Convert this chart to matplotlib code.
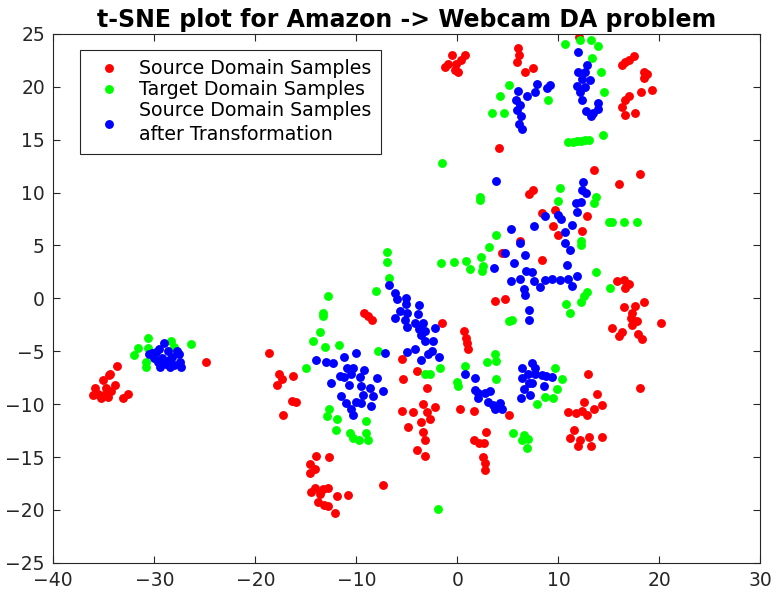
import numpy as np
import matplotlib
matplotlib.use("Agg")
import matplotlib.pyplot as plt

# source domain samples (red)
src_x = [-34.5, -35.1, -33.9, -35.9, -34.8, -35.6, -35.0, -36.1, -35.3, -34.6, -33.1, -32.6, -34.3, -33.7, -34.4, -24.9,
         -18.6, -17.7, -16.3, -17.4, -17.9, -16.4, -16.0, -17.3,
         -14.0, -12.7, -14.6, -14.1, -14.6, -14.1, -13.3, -12.8, -13.6, -14.45, -11.9, -10.8, -13.8, -13.2, -12.8, -12.15, -7.4,
         -9.2, -8.8, -8.4,
         -5.5, -4.0, -5.4, -3.0, -5.5, -4.4, -3.4, -2.2, -3.05, -3.6, -2.7, -4.9, -3.4, -3.2, -4.0, -3.2,
         -1.5, 0.7, 0.9, 1.0, 1.1, 3.7, 4.7,
         0.3, 1.6, 2.85, 1.6, 2.1, 2.6, 2.5, 2.7, 2.7, 5.1,
         12.95, 18.1, 13.8, 12.5, 14.3, 11.0, 11.7, 12.3, 12.8, 13.5, 11.5, 11.2, 12.1, 11.9, 13.0, 13.2, 14.3,
         15.8, 16.5, 16.6, 16.95, 16.5, 17.6, 18.5, 17.3, 17.15, 17.8, 17.3, 20.2, 15.3, 16.3, 16.0, 17.9, 18.3,
         8.4, 9.7, 9.5, 10.0, 12.8, 12.3, 8.4, 6.2, 4.4, 7.05, 7.5, 13.5, 16.0, 18.1, 4.1,
         -0.57, 0.75, 0.4, -1.2, -0.2, 0.1, -0.9, -0.1, 6.0, 6.1, 5.9, 6.7, 7.5, 12.0,
         16.3, 16.6, 17.0, 17.5, 18.5, 18.8, 18.5, 19.3, 18.2, 17.0, 16.6, 16.3, 16.6, 17.6]
src_y = [-7.2, -7.7, -8.2, -8.5, -8.5, -9.0, -9.1, -9.1, -9.4, -9.3, -9.4, -9.0, -8.8, -6.4, -7.1, -6.0,
         -5.2, -7.1, -7.3, -7.6, -8.2, -9.7, -9.8, -11.0,
         -14.9, -15.0, -15.7, -16.1, -16.5, -17.9, -18.0, -17.9, -18.5, -18.3, -18.7, -18.6, -19.2, -19.5, -19.6, -20.3, -17.6,
         -1.4, -1.7, -2.0,
         -5.7, -6.9, -7.6, -8.5, -10.6, -10.7, -10.0, -10.3, -10.7, -11.7, -11.4, -12.2, -12.6, -13.4, -14.3, -14.9,
         -2.3, -3.1, -3.7, -4.2, -4.8, -0.2, -0.1,
         -10.5, -10.6, -12.6, -13.4, -13.7, -13.7, -15.0, -15.6, -16.2, -11.0,
         -7.1, -8.5, -9.0, -9.75, -10.1, -10.7, -10.8, -10.6, -11.0, -10.5, -12.4, -13.2, -13.4, -14.0, -13.1, -14.0, -13.1,
         1.6, 1.75, 1.0, 1.4, -0.8, -0.7, -0.3, -1.4, -1.9, -2.1, -2.5, -2.3, -2.8, -3.2, -3.6, -3.4, -3.85,
         8.05, 8.4, 6.8, 6.0, 7.8, 6.4, 3.6, 5.4, 4.3, 9.9, 10.2, 12.1, 10.8, 11.8, 14.2,
         23.0, 23.0, 22.5, 21.9, 21.6, 21.4, 22.2, 22.2, 23.7, 23.0, 22.3, 21.4, 21.8, 24.7,
         22.1, 22.3, 22.5, 22.9, 21.4, 21.2, 20.8, 19.7, 19.5, 19.1, 18.8, 18.1, 17.3, 17.5]

# target domain samples (green)
tgt_x = [-30.6, -31.65, -32.0, -30.6, -28.3, -28.0, -26.4, -30.8, -30.8,
         -7.0, -7.0, -6.75, -8.1, -12.8, -13.3, -13.3, -13.6, -14.3, -13.1, -11.7, -15.0, -7.9,
         -12.75, -12.9, -11.9, -12.0, -10.65, -10.3, -9.7, -9.0, -8.8, -9.0, -1.95,
         -3.2, -2.7, -1.7, 0.75, 2.9, 3.7, 3.8, 0.0, 0.1, 3.8,
         5.55, 6.6, 6.4, 7.0, 6.9, 9.7, 10.4, 9.85, 9.5, 8.7, 7.9,
         -1.6, -0.3, 0.9, 1.3, 2.3, 2.4, 2.5, 3.1, 3.8, 2.25, 2.2, -1.55, 5.1, 5.4,
         5.1, 4.2, 3.4, 4.6, 10.7, 12.1, 13.2, 13.9, 13.3, 14.2, 14.5, 9.0,
         11.0, 11.4, 11.8, 12.2, 12.6, 13.0, 14.4, 10.2, 10.0, 13.7, 13.5,
         12.2, 12.2, 15.0, 15.3, 16.5, 17.8, 13.7, 15.1, 12.85, 12.5, 12.2, 10.8, 11.2]
tgt_y = [-3.7, -4.7, -5.35, -4.7, -4.0, -4.6, -4.3, -6.45, -6.0,
         4.4, 3.4, 1.9, 0.7, 0.2, -1.4, -1.7, -3.2, -4.0, -4.6, -4.4, -6.6, -5.0,
         -10.5, -11.1, -11.4, -12.4, -12.7, -13.2, -13.4, -12.7, -13.4, -11.6, -19.9,
         -7.1, -7.1, -6.6, -6.4, -6.0, -5.3, -5.9, -7.9, -8.3, -7.6,
         -12.7, -12.9, -13.4, -13.3, -14.1, -6.6, -7.6, -8.6, -9.4, -9.3, -10.0,
         3.3, 3.4, 3.5, 2.8, 3.9, 2.6, 3.1, 4.9, 6.0, 9.6, 9.3, 12.8, -2.1, -2.0,
         20.2, 19.1, 17.5, 17.5, 24.0, 24.4, 24.4, 23.9, 22.7, 21.4, 19.5, 18.8,
         14.8, 14.8, 14.9, 14.9, 15.0, 15.0, 15.4, 10.4, 9.2, 9.6, 9.0,
         5.4, 5.0, 7.2, 7.2, 7.2, 7.2, 2.5, 1.0, 0.65, 0.2, -0.3, -0.55, -1.4]

# source domain samples after transformation (blue)
trn_x = [-30.2, -29.5, -29.0, -28.6, -28.2, -27.6, -27.5, -28.0, -28.8, -29.6, -30.0, -29.2, -28.5, -27.8, -29.4, -28.4, -27.4, -30.5, -29.8,
         -6.75, -6.2, -6.0, -5.1, -5.1, -3.8, -5.7, -5.0, -6.2, -3.9, -5.2, -4.2, -3.4, -5.0, -3.8, -3.2, -2.2, -3.6, -3.2, -2.45,
         -4.2, -5.0, -2.5, -2.9, -3.6, -1.8, -7.2,
         -14.0, -13.0, -12.3, -11.2, -10.0, -10.9, -10.3, -9.2, -11.6, -11.2, -10.5, -9.6, -8.0, -12.55, -10.7, -9.5, -8.6, -7.35,
         -11.5, -9.3, -10.0, -8.35, -11.0, -9.5, -8.5, -10.5, -10.3,
         0.75, 1.7, 1.7, 2.05, 2.7, 3.2, 2.05, 3.0, 3.55, 4.2, 4.4, 3.7,
         6.4, 7.4, 7.7, 7.0, 7.7, 8.4, 8.8, 9.4, 6.4, 7.05, 7.4, 6.6, 7.2, 6.3, 8.55,
         5.3, 6.2, 6.7, 5.6, 3.6, 6.8, 7.4, 4.7, 5.3, 6.2, 6.6, 6.7, 7.05, 7.05,
         11.7, 11.8, 10.0, 10.3, 8.7, 11.35, 10.7, 7.6, 10.7, 11.2, 10.9, 7.55, 8.2, 8.7, 9.4, 10.2, 11.0, 11.85, 11.35,
         12.4, 12.3, 12.7, 12.2, 3.8,
         6.05, 5.8, 6.2, 5.9, 6.3, 6.1, 6.4, 6.9, 7.9, 7.7, 8.9, 9.2,
         11.9, 12.8, 11.9, 12.6, 12.3, 13.1, 11.8, 12.6, 12.1, 12.3, 12.7, 13.2, 13.9, 13.9, 13.4]
trn_y = [-5.2, -4.8, -4.2, -5.0, -5.5, -5.3, -6.0, -6.3, -6.2, -6.0, -5.6, -5.6, -5.8, -5.0, -6.5, -6.5, -6.5, -5.3, -5.1,
         1.3, 0.5, -0.1, 0.0, -0.5, -0.6, -1.2, -1.4, -1.9, -1.5, -2.0, -2.3, -2.3, -2.7, -2.9, -3.1, -2.8, -3.5, -4.0, -4.0,
         -4.8, -5.1, -5.0, -5.3, -5.8, -5.5, -5.2,
         -5.8, -6.0, -6.1, -5.5, -5.2, -6.6, -6.6, -6.8, -7.3, -7.4, -7.1, -7.45, -7.55, -8.0, -8.2, -8.3, -8.5, -8.8,
         -9.2, -9.1, -9.75, -9.2, -9.9, -9.9, -10.2, -10.5, -11.0,
         -7.1, -7.5, -8.65, -8.9, -8.9, -8.8, -9.4, -9.75, -10.1, -9.9, -10.5, -10.5,
         -6.6, -6.1, -6.6, -7.1, -7.1, -7.25, -7.3, -7.4, -7.5, -8.0, -8.0, -8.6, -9.1, -9.4, -8.3,
         6.6, 5.2, 4.1, 3.3, 2.9, 2.6, 2.5, 4.3, 1.6, 1.8, 0.9, 0.3, -1.1, -2.0,
         9.0, 8.2, 7.9, 7.5, 7.8, 6.9, 6.3, 6.8, 5.2, 4.6, 3.2, 1.6, 1.1, 1.75, 1.85, 1.75, 1.85, 2.1, 1.2,
         11.0, 10.2, 10.0, 9.1, 11.1,
         19.6, 18.8, 18.3, 17.8, 17.2, 16.5, 16.0, 19.1, 20.3, 19.5, 19.9, 20.2,
         23.3, 22.1, 21.4, 21.4, 20.7, 20.6, 20.1, 20.0, 19.5, 18.8, 17.7, 17.2, 18.5, 17.9, 17.5]

fig = plt.figure(figsize=(7.72, 5.95), dpi=100)
ax = fig.add_axes([0.069, 0.054, 0.916, 0.889])

ms = 6.4
ax.plot(src_x, src_y, 'o', color=(1, 0, 0), markersize=ms, markeredgewidth=0, label='Source Domain Samples')
ax.plot(tgt_x, tgt_y, 'o', color=(0, 1, 0), markersize=ms, markeredgewidth=0, label='Target Domain Samples')
ax.plot(trn_x, trn_y, 'o', color=(0, 0, 1), markersize=ms, markeredgewidth=0,
        label='Source Domain Samples\nafter Transformation')

ax.set_xlim(-40, 30)
ax.set_ylim(-25, 25)
ax.set_xticks(np.arange(-40, 31, 10))
ax.set_yticks(np.arange(-25, 26, 5))
ax.tick_params(direction='in', top=True, right=True, length=5, labelsize=13.5, colors='#262626', pad=6)
for s in ax.spines.values():
    s.set_linewidth(0.8)
    s.set_color('#262626')

ax.set_title('t-SNE plot for Amazon -> Webcam DA problem', fontsize=17, fontweight='bold', pad=5)

leg = ax.legend(loc='upper left', bbox_to_anchor=(0.038, 0.97), borderaxespad=0, fontsize=13.7,
                fancybox=False, edgecolor='#262626', framealpha=1, handletextpad=0.6,
                handlelength=2.0, labelspacing=0.1, borderpad=0.5)
for t in leg.get_texts():
    t.set_linespacing(1.35)
leg.get_frame().set_linewidth(0.8)

fig.savefig('out.png', dpi=100)
